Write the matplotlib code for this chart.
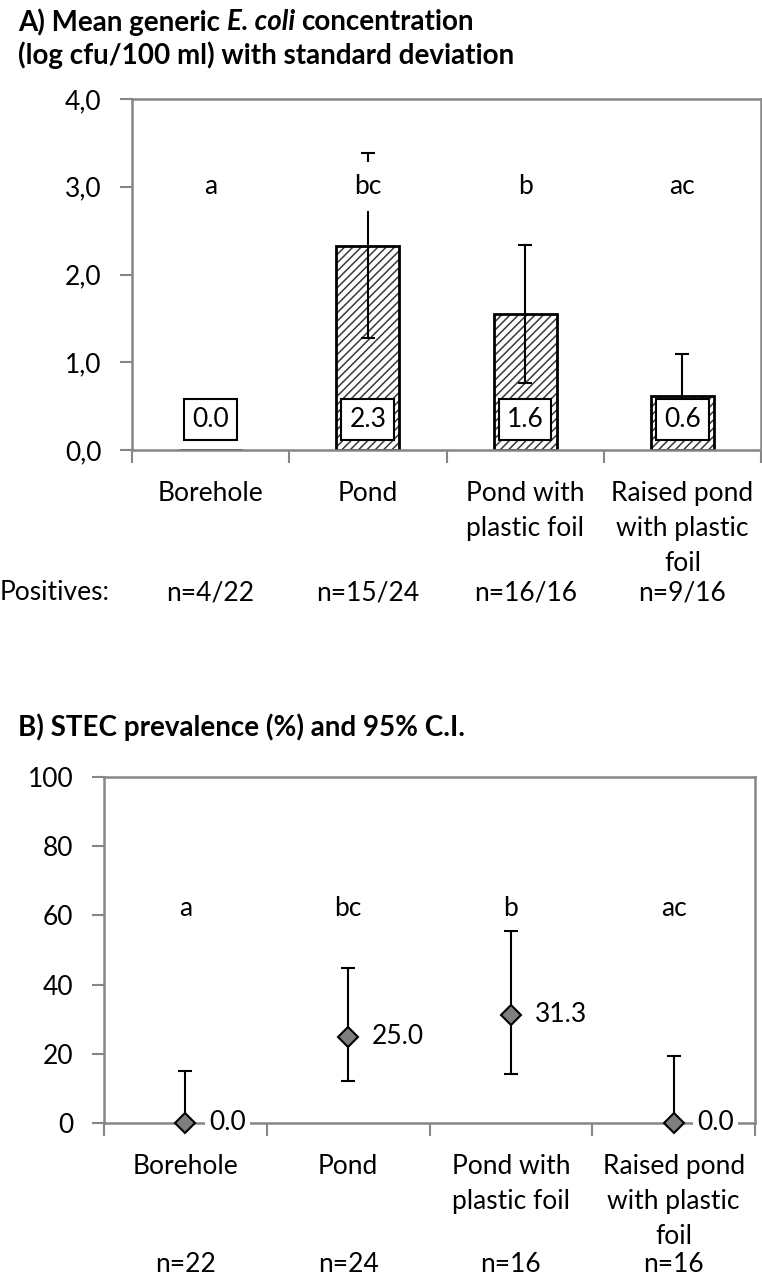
import matplotlib
matplotlib.use('Agg')
from matplotlib import pyplot as plt
from matplotlib import transforms
import numpy as np

plt.rcParams['font.family'] = ['Lato', 'DejaVu Sans']
plt.rcParams['font.size'] = 19
plt.rcParams['hatch.linewidth'] = 1.1

# data
categories = ['Borehole', 'Pond', 'Pond with\nplastic foil', 'Raised pond\nwith plastic\nfoil']
ecoli_mean = [0.0, 2.33, 1.55, 0.62]
ecoli_sd = [0.0, 1.05, 0.79, 0.47]
ecoli_labels = ['0.0', '2.3', '1.6', '0.6']
positives = ['n=4/22', 'n=15/24', 'n=16/16', 'n=9/16']
letters = ['a', 'bc', 'b', 'ac']

stec_prev = [0.0, 25.0, 31.3, 0.0]
stec_low = [0.0, 12.0, 14.2, 0.0]
stec_high = [14.9, 44.9, 55.6, 19.4]
stec_n = ['n=22', 'n=24', 'n=16', 'n=16']

W, H = 762, 1277
fig = plt.figure(figsize=(W / 100, H / 100), dpi=100)
renderer = fig.canvas.get_renderer()

axis_grey = '#868686'
title_size = 20


def px_axes(left, top, right, bottom):
    return fig.add_axes([left / W, 1 - bottom / H, (right - left) / W, (bottom - top) / H])


def text_width(s, **kw):
    t = fig.text(0, 0, s, **kw)
    w = t.get_window_extent(renderer).width
    t.remove()
    return w


def rich_title(x, y, parts):
    space = text_width('x x', fontweight='bold', fontsize=title_size) - \
        text_width('xx', fontweight='bold', fontsize=title_size)
    for txt, style in parts:
        lead = len(txt) - len(txt.lstrip(' '))
        x += lead * space
        t = fig.text(x / W, 1 - y / H, txt.strip(' '), fontweight='bold', fontstyle=style,
                     fontsize=title_size, ha='left', va='center')
        x = t.get_window_extent(renderer).x1
        trail = len(txt) - len(txt.rstrip(' '))
        x += trail * space


def style_axes(ax):
    for s in ax.spines.values():
        s.set_color(axis_grey)
        s.set_linewidth(1.8)
    ax.tick_params(axis='y', which='major', direction='out', length=9, width=1.5, color=axis_grey, pad=13)
    ax.tick_params(axis='x', which='major', length=0, pad=22)
    ax.tick_params(axis='x', which='minor', direction='out', length=9, width=1.5, color=axis_grey)
    ax.set_xlim(0.5, 4.5)
    ax.set_xticks(np.arange(0.5, 5.0), minor=True)
    ax.set_xticks(np.arange(1, 5))
    ax.set_xticklabels(categories, linespacing=1.5)


x = np.arange(1, 5)

# ---- panel A
rich_title(18, 22, [('A) Mean generic ', 'normal'), ('E. coli', 'italic'), (' concentration', 'normal')])
rich_title(18, 55, [('(log cfu/100 ml) with standard deviation', 'normal')])

ax1 = px_axes(132, 99, 761, 450)
style_axes(ax1)
ax1.set_ylim(0, 4)
ax1.set_yticks([0, 1, 2, 3, 4])
ax1.set_yticklabels([f'{v:.1f}'.replace('.', ',') for v in [0, 1, 2, 3, 4]])

ax1.bar(x, ecoli_mean, width=0.4, color='white', edgecolor='#3a3a3a', hatch='////', linewidth=0, zorder=2)
ax1.bar(x, ecoli_mean, width=0.4, fill=False, edgecolor='black', linewidth=2, zorder=2.2)
has_sd = [i for i in range(4) if ecoli_sd[i] > 0]
ax1.errorbar(x[has_sd], np.array(ecoli_mean)[has_sd], yerr=np.array(ecoli_sd)[has_sd], fmt='none',
             ecolor='black', elinewidth=1.5, capsize=5, capthick=1.5, zorder=3)

for xi, lab in zip(x, ecoli_labels):
    ax1.text(xi, 0.35, lab, ha='center', va='center', zorder=5,
             bbox=dict(boxstyle='square,pad=0.3', facecolor='white', edgecolor='black', linewidth=1.5))
for xi, lab in zip(x, letters):
    ax1.text(xi, 3.0, lab, ha='center', va='center', zorder=5,
             bbox=dict(boxstyle='square,pad=0.45', facecolor='white', edgecolor='none'))

fig.text(0, 1 - 593 / H, 'Positives:', ha='left', va='center')
for xi, lab in zip(x, positives):
    ax1.text(xi, 1 - 593 / H, lab, transform=transforms.blended_transform_factory(ax1.transData, fig.transFigure),
             ha='center', va='center')

# ---- panel B
rich_title(18, 727, [('B) STEC prevalence (%) and 95% C.I.', 'normal')])

ax2 = px_axes(104, 777, 755, 1123)
style_axes(ax2)
ax2.set_ylim(0, 100)
ax2.set_yticks(np.arange(0, 101, 20))

prev = np.array(stec_prev)
err = [prev - np.array(stec_low), np.array(stec_high) - prev]
ax2.errorbar(x, prev, yerr=err, fmt='D', color='black', markerfacecolor='#7f7f7f', markeredgecolor='black',
             markersize=10, markeredgewidth=1.5, elinewidth=1.5, capsize=5, capthick=1.5,
             clip_on=False, zorder=4)
for xi, v in zip(x, stec_prev):
    ax2.annotate(f'{v:.1f}', (xi, v), xytext=(17, 0), textcoords='offset points', ha='left', va='center',
                 zorder=5, annotation_clip=False,
                 bbox=dict(boxstyle='square,pad=0.15', facecolor='white', edgecolor='none'))
for xi, lab in zip(x, letters):
    ax2.text(xi, 62, lab, ha='center', va='center', zorder=5)

for xi, lab in zip(x, stec_n):
    ax2.text(xi, 1 - 1264 / H, lab, transform=transforms.blended_transform_factory(ax2.transData, fig.transFigure),
             ha='center', va='center')

fig.savefig('out.png', dpi=100)
